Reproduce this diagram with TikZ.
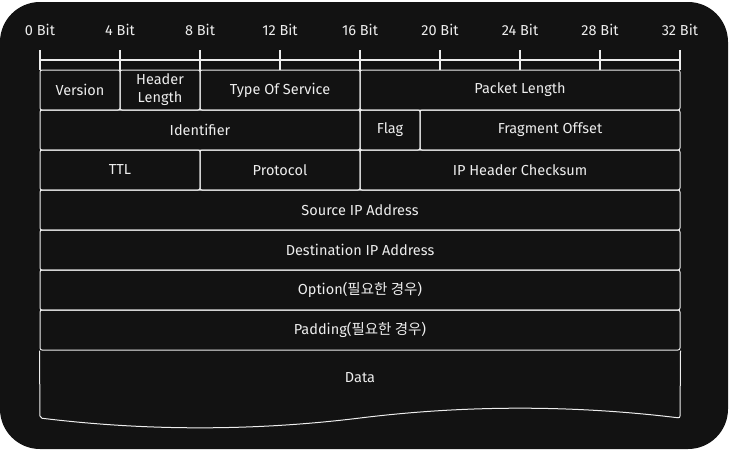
\documentclass[tikz,border=0pt]{standalone}
\usepackage{fontspec}
\setmainfont{Fira Sans}
\newfontfamily\krfont{Noto Sans CJK KR}
\definecolor{board}{HTML}{121212}
\definecolor{ink}{HTML}{EDEDED}
\begin{document}
\begin{tikzpicture}[x=1pt,y=-1pt,
    field/.style={draw=ink,line width=1pt,rounded corners=2pt,inner sep=0pt,
      minimum height=40pt,text=ink,font=\fontsize{14.5}{18}\selectfont,align=center},
    bitlabel/.style={text=ink,font=\fontsize{14.5}{16}\selectfont}]
  \useasboundingbox (0,0) rectangle (730,450);
  \fill[board,rounded corners=40pt] (0,2) rectangle (728,449);
  \foreach \b in {0,4,...,32}{
    \node[bitlabel] (l\b) at ({40+20*\b},30) {\b\ Bit};
    \coordinate (t\b) at ({40+20*\b},60);
  }
  \draw[ink,line width=2pt] (t0) -- (t32);
  \foreach \b in {0,4,...,32}
    \draw[ink,line width=2pt] ([yshift=-10pt]t\b) -- ([yshift=10pt]t\b);
  \node[field,minimum width=80pt] (version) at (80,90) {Version};
  \node[field,minimum width=80pt] (hlen) at (160,90) {Header\\Length};
  \node[field,minimum width=160pt] (tos) at (280,90) {Type Of Service};
  \node[field,minimum width=320pt] (plen) at (520,90) {Packet Length};
  \node[field,minimum width=320pt] (ident) at (200,130) {Identifier};
  \node[field,minimum width=60pt] (flag) at (390,130) {Flag};
  \node[field,minimum width=260pt] (fragoff) at (550,130) {Fragment Offset};
  \node[field,minimum width=160pt] (ttl) at (120,170) {TTL};
  \node[field,minimum width=160pt] (proto) at (280,170) {Protocol};
  \node[field,minimum width=320pt] (chksum) at (520,170) {IP Header Checksum};
  \node[field,minimum width=640pt] (src) at (360,210) {Source IP Address};
  \node[field,minimum width=640pt] (dst) at (360,250) {Destination IP Address};
  \node[field,minimum width=640pt] (opt) at (360,290) {Option({\krfont 필요한 경우})};
  \node[field,minimum width=640pt] (pad) at (360,330) {Padding({\krfont 필요한 경우})};
  \node[field,draw=none] (data) at (360,378) {Data};
  \draw[ink,line width=1pt,rounded corners=2pt] (pad.south west) -- (40,418)
    .. controls (147,431) and (253,431) .. (360,418)
    .. controls (467,405) and (573,405) .. (680,418) -- (pad.south east);
\end{tikzpicture}
\end{document}
